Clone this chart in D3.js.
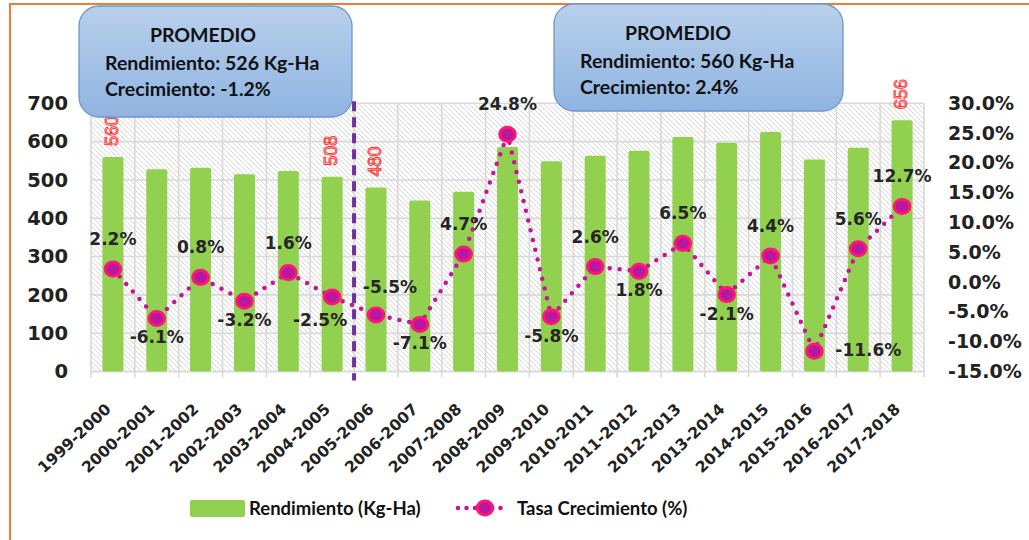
<!DOCTYPE html>
<html><head><meta charset="utf-8">
<script src="https://cdn.jsdelivr.net/npm/d3@7"></script>
<style>
html,body{margin:0;padding:0;background:#fff;}
svg{display:block;}
</style></head>
<body>
<svg id="chart" width="1029" height="540"></svg>
<script>
// ---- data ----
const categories = ["1999-2000","2000-2001","2001-2002","2002-2003","2003-2004","2004-2005","2005-2006","2006-2007","2007-2008","2008-2009","2009-2010","2010-2011","2011-2012","2012-2013","2013-2014","2014-2015","2015-2016","2016-2017","2017-2018"];
const rendimiento = [560,528,532,515,523,508,480,446,469,586,549,563,576,612,597,625,553,584,656];
const tasaCrecimiento = [2.2,-6.1,0.8,-3.2,1.6,-2.5,-5.5,-7.1,4.7,24.8,-5.8,2.6,1.8,6.5,-2.1,4.4,-11.6,5.6,12.7];
const barValueLabels = {"1999-2000":560,"2004-2005":508,"2005-2006":480,"2017-2018":656};
const leftTicks = [0,100,200,300,400,500,600,700];
const rightTicks = [-15,-10,-5,0,5,10,15,20,25,30];
const box1Lines = ["PROMEDIO","Rendimiento: 526 Kg-Ha","Crecimiento:  -1.2%"];
const box2Lines = ["PROMEDIO","Rendimiento: 560 Kg-Ha","Crecimiento: 2.4%"];
const legendLabels = ["Rendimiento (Kg-Ha)","Tasa Crecimiento (%)"];
const dividerAfter = "2004-2005";

// label placement (style)
const labelSide = ["t","b","t","b","t","bl","tr","b","t","t","b","t","b","t","b","t","r","t","t"];

const svg = d3.select("#chart");
const W = 1029, H = 540;
const plot = {l:91, r:924, t:103.3, b:371.5};

const defs = svg.append("defs");
const pat = defs.append("pattern").attr("id","hatch").attr("patternUnits","userSpaceOnUse")
  .attr("width",5).attr("height",5);
pat.append("rect").attr("width",5).attr("height",5).attr("fill","#fff");
pat.append("path").attr("d","M-1,-1 L6,6 M-1,4 L1,6 M4,-1 L6,1").attr("stroke","#d2d2d2").attr("stroke-width",0.9);
const grad = defs.append("linearGradient").attr("id","boxgrad").attr("x1",0).attr("y1",0).attr("x2",0).attr("y2",1);
grad.append("stop").attr("offset","0%").attr("stop-color","#b9d0ec");
grad.append("stop").attr("offset","100%").attr("stop-color","#8fb4e1");

// orange frame
svg.append("path").attr("d",`M10,${H} L10,4 L${W},4`).attr("fill","none").attr("stroke","#ed7d31").attr("stroke-width",2);

// scales
const xBand = d3.scaleBand().domain(categories).range([plot.l,plot.r]).paddingInner(0.52).paddingOuter(0.26);
const xCell = d3.scaleBand().domain(categories).range([plot.l,plot.r]).padding(0);
const yL = d3.scaleLinear().domain([0,700]).range([plot.b,plot.t]);
const yR = d3.scaleLinear().domain([-15,30]).range([plot.b,plot.t]);
const cx = c => xBand(c) + xBand.bandwidth()/2;

// plot background
svg.append("rect").attr("x",plot.l).attr("y",plot.t).attr("width",plot.r-plot.l).attr("height",plot.b-plot.t).attr("fill","url(#hatch)");

// gridlines
const grid = svg.append("g").attr("stroke","#d9d9d9").attr("stroke-width",1.6);
grid.selectAll("line.h").data(leftTicks).join("line").attr("class","h")
  .attr("x1",plot.l).attr("x2",plot.r).attr("y1",d=>yL(d)).attr("y2",d=>yL(d));
const vb = categories.map(c=>xCell(c)).concat([plot.r]);
grid.selectAll("line.v").data(vb).join("line").attr("class","v")
  .attr("x1",d=>d).attr("x2",d=>d).attr("y1",plot.t).attr("y2",plot.b+6);

// left axis
const axL = svg.append("g").attr("transform",`translate(${plot.l},0)`)
  .call(d3.axisLeft(yL).tickValues(leftTicks).tickSize(0).tickPadding(23).tickFormat(d3.format("d")));
axL.select(".domain").remove();
axL.selectAll("text").attr("font-family","DejaVu Sans").attr("font-weight","bold").attr("font-size",19.5).attr("fill","#222");

// right axis
const axR = svg.append("g").attr("transform",`translate(${plot.r},0)`)
  .call(d3.axisRight(yR).tickValues(rightTicks).tickSize(0).tickPadding(24).tickFormat(d=>d.toFixed(1)+"%"));
axR.select(".domain").remove();
axR.selectAll("text").attr("font-family","DejaVu Sans").attr("font-weight","bold").attr("font-size",19).attr("fill","#222");

// bottom axis labels
const axB = svg.append("g").attr("transform",`translate(0,${plot.b})`)
  .call(d3.axisBottom(xBand).tickSize(0).tickPadding(0));
axB.select(".domain").attr("stroke","#d9d9d9").attr("stroke-width",1.6).attr("d",`M${plot.l},0H${plot.r}`);
axB.selectAll(".tick text")
  .attr("font-family","DejaVu Sans").attr("font-weight","bold").attr("font-size",15.5).attr("fill","#222")
  .attr("text-anchor","end").attr("dy",0).attr("y",0)
  .attr("transform","translate(-1,39) rotate(-43)");

// bars
svg.append("g").selectAll("rect").data(categories).join("rect")
  .attr("x",c=>xBand(c)).attr("width",xBand.bandwidth())
  .attr("y",(c,i)=>yL(rendimiento[i])).attr("height",(c,i)=>plot.b-yL(rendimiento[i]))
  .attr("fill","#92d050").attr("rx",2);

// bar value labels (outlined red, vertical)
svg.append("g").selectAll("text").data(Object.keys(barValueLabels)).join("text")
  .attr("transform",c=>{const i=categories.indexOf(c);return `translate(${cx(c)+5},${yL(rendimiento[i])-11}) rotate(-90)`;})
  .attr("font-family","Liberation Sans").attr("font-size",18)
  .attr("fill","#fff").attr("stroke","#ff2a2a").attr("stroke-width",0.9)
  .text(c=>barValueLabels[c]);

// divider line
const divX = xCell(dividerAfter)+xCell.bandwidth();
svg.append("line").attr("x1",divX).attr("x2",divX).attr("y1",plot.t-2).attr("y2",plot.b+9)
  .attr("stroke","#7030a0").attr("stroke-width",4).attr("stroke-dasharray","10,6");

// growth line
const line = d3.line().x((d,i)=>cx(categories[i])).y(d=>yR(d));
svg.append("path").datum(tasaCrecimiento).attr("d",line).attr("fill","none")
  .attr("stroke","#c8129e").attr("stroke-width",4.5).attr("stroke-linecap","round").attr("stroke-dasharray","0,10");
svg.append("g").selectAll("ellipse").data(tasaCrecimiento).join("ellipse")
  .attr("cx",(d,i)=>cx(categories[i])).attr("cy",d=>yR(d)).attr("rx",7.8).attr("ry",7)
  .attr("fill","#b8189c").attr("stroke","#ff1478").attr("stroke-width",3);

// growth labels
const off = {t:[0,-30], b:[0,19], bl:[-12,23], tr:[14,-28], r:[54,-1]};
svg.append("g").selectAll("text").data(tasaCrecimiento).join("text")
  .attr("x",(d,i)=>cx(categories[i])+off[labelSide[i]][0])
  .attr("y",(d,i)=>yR(d)+off[labelSide[i]][1])
  .attr("text-anchor","middle").attr("dominant-baseline","central")
  .attr("font-family","DejaVu Sans").attr("font-weight","bold").attr("font-size",17).attr("fill","#262626")
  .text(d=>d.toFixed(1)+"%");

// boxes
function box(x,y,w,h,lines,tx,pcx){
  svg.append("rect").attr("x",x).attr("y",y).attr("width",w).attr("height",h).attr("rx",20)
    .attr("fill","url(#boxgrad)").attr("stroke","#6e97cd").attr("stroke-width",1.3);
  const g = svg.append("g").attr("font-family","Lato").attr("font-weight","bold").attr("font-size",19.5).attr("fill","#111");
  g.append("text").attr("x",pcx).attr("y",y+36).attr("text-anchor","middle").text(lines[0]);
  g.append("text").attr("x",tx).attr("y",y+64).text(lines[1]);
  g.append("text").attr("x",tx).attr("y",y+90).text(lines[2]);
}
box(79,6,273,111,box1Lines,105,203);
box(554,4,289,107,box2Lines,580,678);

// legend
const lg = svg.append("g").attr("font-family","Lato").attr("font-weight","bold").attr("font-size",18.5).attr("fill","#111");
lg.append("rect").attr("x",190).attr("y",500).attr("width",55).attr("height",17).attr("rx",2).attr("fill","#92d050");
lg.append("text").attr("x",249).attr("y",514.5).text(legendLabels[0]);
lg.append("line").attr("x1",458).attr("x2",508).attr("y1",508).attr("y2",508)
  .attr("stroke","#c8129e").attr("stroke-width",4.5).attr("stroke-linecap","round").attr("stroke-dasharray","0,8.5");
lg.append("ellipse").attr("cx",485).attr("cy",508).attr("rx",7.8).attr("ry",7).attr("fill","#b8189c").attr("stroke","#ff1478").attr("stroke-width",3);
lg.append("text").attr("x",517).attr("y",514.5).text(legendLabels[1]);
</script>
</body></html>
